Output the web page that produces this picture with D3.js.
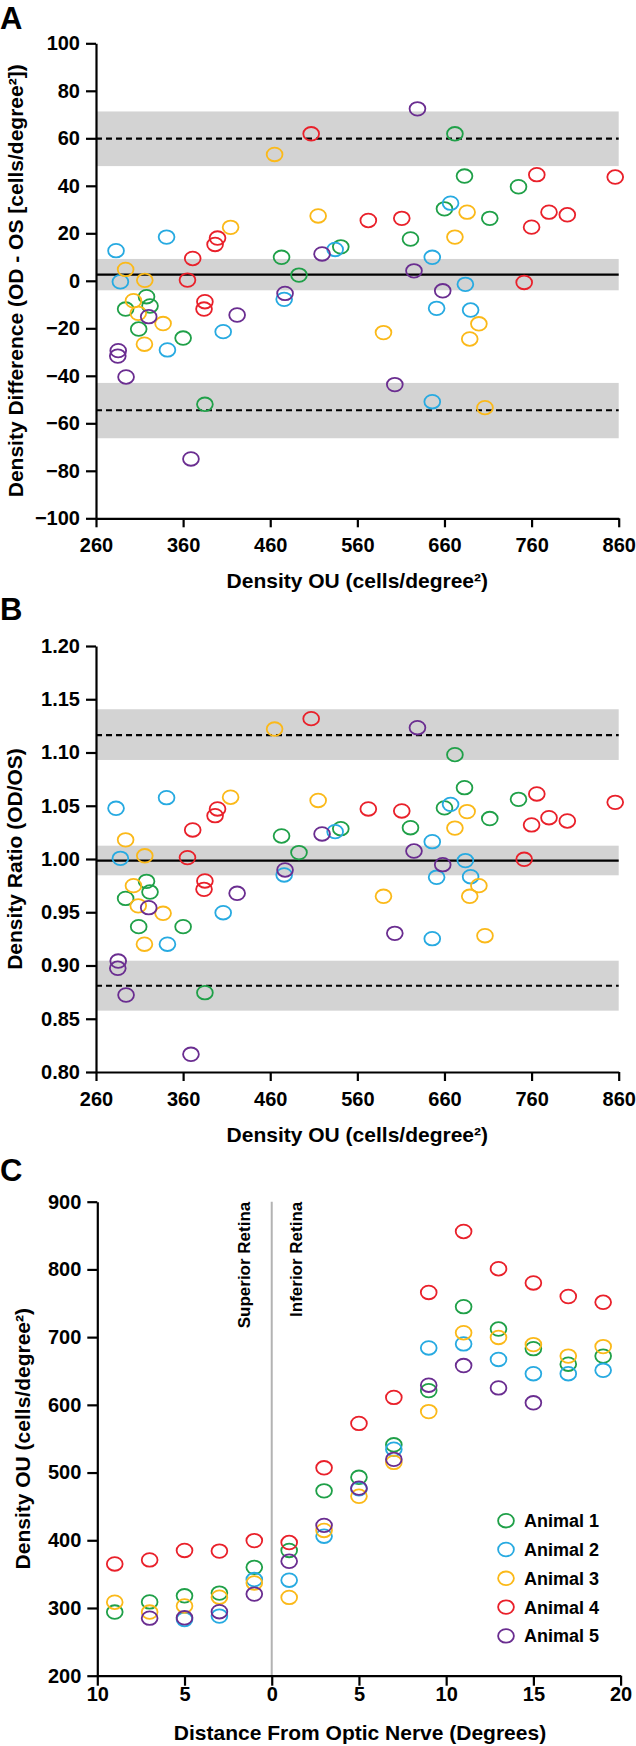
<!DOCTYPE html>
<html>
<head>
<meta charset="utf-8">
<script src="https://cdn.jsdelivr.net/npm/d3@7"></script>
<style>
  html, body { margin: 0; padding: 0; background: #ffffff; }
  svg { display: block; }
</style>
</head>
<body>
<script>
// ---------------- DATA ----------------
const locations = [-9, -7, -5, -3, -1, 1, 3, 5, 7, 9, 11, 13, 15, 17, 19];
const animals = ["Animal 1", "Animal 2", "Animal 3", "Animal 4", "Animal 5"];

// Density OU (cells/degree^2) per location
const densityOU1 = [294, 309, 318, 322, 360, 385, 473, 493, 541, 621, 745, 712, 683, 660, 672];
const densityOU2 = [null, null, 283, 288, 342, 341, 406, 476, 534.5, 684, 690, 667, 646, 646, 651];
const densityOU3 = [308.5, 294, 303, 316, 337, 315.6, 414.5, 465, 515, 590, 706.5, 699.5, 689, 672, 686];
const densityOU4 = [365, 371, 385, 384, 399.5, 396.7, 507, 572.6, 611, 766, 856, 801, 780, 760, 751.5];
const densityOU5 = [null, 285, 285.5, 294.5, 320.5, 369, 422, 477, 519.5, 629, 658, 625, 603, null, null];

// Density difference OD - OS
const diff1 = [-11.9, -20.3, -6.7, -10.6, -24.1, -52, 9.9, 2.4, 14.3, 17.6, 39.6, 26.3, 44.1, 30.3, 61.9];
const diff2 = [null, null, 12.7, -0.4, -29.1, 18.4, -21.4, -7.8, 13.2, -1.5, -12.3, 32.7, 9.9, -50.9, -11.6];
const diff3 = [-13.7, 4.8, -8.4, 0.2, -18, -26.7, 22.5, 53.2, 27.3, -21.8, -53.4, -18.1, -24.5, 18.4, 28.9];
const diff4 = [0.3, 9.4, -8.8, -11.9, 18, 15.3, 61.9, 25.4, 26.3, 44.7, 43.7, 27.8, 28.9, 22.6, -0.7];
const diff5 = [null, -31.7, -29.4, -40.5, -15.1, -75, -14.4, -5.3, 11.3, 72.4, -4.2, 4.2, -43.7, null, null];

// Density ratio OD/OS
const ratio1 = [0.963, 0.9365, 0.979, 0.969, 0.9365, 0.8745, 1.0216, 1.006, 1.0285, 1.0294, 1.056, 1.038, 1.067, 1.048, 1.098];
const ratio2 = [null, null, 1.0476, 1.0006, 0.920, 1.0576, 0.9496, 0.985, 1.0257, 0.9985, 0.9834, 1.0513, 1.0163, 0.9252, 0.9828];
const ratio3 = [0.956, 1.018, 0.975, 1.003, 0.949, 0.920, 1.058, 1.122, 1.055, 0.965, 0.928, 0.975, 0.965, 1.029, 1.0445];
const ratio4 = [1.0013, 1.0273, 0.9794, 0.9715, 1.047, 1.0407, 1.1318, 1.047, 1.0451, 1.0611, 1.0532, 1.0357, 1.0388, 1.032, 0.9997];
const ratio5 = [null, 0.8974, 0.9042, 0.8723, 0.9543, 0.8166, 0.9678, 0.9897, 1.0235, 1.1233, 0.9947, 1.0075, 0.9302, null, null];

// Bland-Altman reference values: [lower CI, line, upper CI]
const diffMean = [-4.0, 2.6, 9.2];
const diffUpperLoA = [48.3, 59.9, 71.3];
const diffLowerLoA = [-66.3, -54.5, -43.0];
const ratioMean = [0.9847, 0.9984, 1.0125];
const ratioUpperLoA = [1.093, 1.1164, 1.1406];
const ratioLowerLoA = [0.8576, 0.881, 0.9045];

// Tick labels
const ticksOU = [260, 360, 460, 560, 660, 760, 860];
const ticksDiff = [-100, -80, -60, -40, -20, 0, 20, 40, 60, 80, 100];
const ticksRatio = [0.80, 0.85, 0.90, 0.95, 1.00, 1.05, 1.10, 1.15, 1.20];
const ticksDist = [-10, -5, 0, 5, 10, 15, 20];
const ticksDensC = [200, 300, 400, 500, 600, 700, 800, 900];

// ---------------- STYLE ----------------
const colors = ["#1fa048", "#27aae1", "#fbb919", "#e9202a", "#6a2d90"];
const FONT = "'Liberation Sans', Arial, Helvetica, sans-serif";

const ouSets = [densityOU1, densityOU2, densityOU3, densityOU4, densityOU5];
const diffSets = [diff1, diff2, diff3, diff4, diff5];
const ratioSets = [ratio1, ratio2, ratio3, ratio4, ratio5];

function points(xs, ys) {
  const out = [];
  xs.forEach((x, i) => { if (x != null && ys[i] != null) out.push([x, ys[i]]); });
  return out;
}

const svg = d3.select("body").append("svg")
  .attr("width", 636).attr("height", 1746)
  .style("font-family", FONT);

// scales
const xAB = d3.scaleLinear().domain([260, 860]).range([96, 618.7]);
const yA = d3.scaleLinear().domain([-100, 100]).range([518.3, 43.3]);
const yB = d3.scaleLinear().domain([0.8, 1.2]).range([1072, 646]);
const xC = d3.scaleLinear().domain([-10, 20]).range([97.3, 620.6]);
const yC = d3.scaleLinear().domain([200, 900]).range([1675.7, 1201.7]);

function styleAxis(g, size) {
  g.attr("font-size", size).attr("font-family", FONT).attr("font-weight", "bold");
  g.select(".domain").attr("stroke", "#000").attr("stroke-width", 2.2);
  g.selectAll(".tick line").attr("stroke", "#000").attr("stroke-width", 2.2);
  g.selectAll(".tick text").attr("fill", "#000");
}

function bands(yScale, sets, x0, x1) {
  const g = svg.append("g");
  sets.forEach((s, i) => {
    g.append("rect")
      .attr("x", x0).attr("width", x1 - x0)
      .attr("y", yScale(s[2])).attr("height", yScale(s[0]) - yScale(s[2]))
      .attr("fill", "#d3d3d3");
  });
  sets.forEach((s, i) => {
    g.append("line")
      .attr("x1", x0).attr("x2", x1)
      .attr("y1", yScale(s[1])).attr("y2", yScale(s[1]))
      .attr("stroke", "#000").attr("stroke-width", 2.2)
      .attr("stroke-dasharray", i === 1 ? null : "6,4");
  });
}

function drawPoints(xScale, yScale, xsets, ysets) {
  const g = svg.append("g");
  xsets.forEach((xs, k) => {
    g.selectAll(null).data(points(xs, ysets[k])).enter().append("ellipse")
      .attr("cx", d => xScale(d[0])).attr("cy", d => yScale(d[1]))
      .attr("rx", 7.9).attr("ry", 6.8)
      .attr("fill", "none").attr("stroke", colors[k]).attr("stroke-width", 1.8);
  });
}

function panelLetter(t, y) {
  svg.append("text").attr("x", 0).attr("y", y).text(t)
    .attr("font-size", 31).attr("font-weight", "bold").attr("fill", "#000");
}

function yTitle(x, y, parts) {
  const t = svg.append("text")
    .attr("transform", `translate(${x},${y}) rotate(-90)`)
    .attr("text-anchor", "middle").attr("font-size", 21).attr("font-weight", "bold").attr("fill", "#000");
  t.text(parts);
}
function xTitle(x, y, txt) {
  svg.append("text").attr("x", x).attr("y", y).attr("text-anchor", "middle")
    .attr("font-size", 21).attr("font-weight", "bold").attr("fill", "#000").text(txt);
}

// ---------------- PANEL A ----------------
panelLetter("A", 28.5);
bands(yA, [diffLowerLoA, diffMean, diffUpperLoA], xAB(260), xAB(860));
svg.append("g").attr("transform", "translate(96,0)")
  .call(d3.axisLeft(yA).tickValues(ticksDiff).tickSize(10).tickSizeOuter(0).tickPadding(6))
  .call(g => styleAxis(g, 20));
svg.append("g").attr("transform", "translate(0,518.3)")
  .call(d3.axisBottom(xAB).tickValues(ticksOU).tickSize(9).tickPadding(11).tickSizeOuter(0))
  .call(g => styleAxis(g, 20));
drawPoints(xAB, yA, ouSets, diffSets);
yTitle(23, 280.8, "Density Difference (OD - OS [cells/degree²])");
xTitle(357.3, 587.7, "Density OU (cells/degree²)");

// ---------------- PANEL B ----------------
panelLetter("B", 620);
bands(yB, [ratioLowerLoA, ratioMean, ratioUpperLoA], xAB(260), xAB(860));
svg.append("g").attr("transform", "translate(96,0)")
  .call(d3.axisLeft(yB).tickValues(ticksRatio).tickFormat(d3.format(".2f")).tickSize(10).tickSizeOuter(0).tickPadding(6))
  .call(g => styleAxis(g, 20));
svg.append("g").attr("transform", "translate(0,1072)")
  .call(d3.axisBottom(xAB).tickValues(ticksOU).tickSize(9).tickPadding(11).tickSizeOuter(0))
  .call(g => styleAxis(g, 20));
drawPoints(xAB, yB, ouSets, ratioSets);
yTitle(22, 859, "Density Ratio (OD/OS)");
xTitle(357.3, 1141.7, "Density OU (cells/degree²)");

// ---------------- PANEL C ----------------
panelLetter("C", 1180.7);
svg.append("line")
  .attr("x1", xC(0)).attr("x2", xC(0)).attr("y1", yC(900)).attr("y2", yC(200))
  .attr("stroke", "#b3b3b3").attr("stroke-width", 2);
svg.append("text")
  .attr("transform", `translate(${xC(0) - 22},${yC(900)}) rotate(-90)`)
  .attr("text-anchor", "end").attr("font-size", 17).attr("font-weight", "bold").attr("fill", "#000")
  .text("Superior Retina");
svg.append("text")
  .attr("transform", `translate(${xC(0) + 30},${yC(900)}) rotate(-90)`)
  .attr("text-anchor", "end").attr("font-size", 17).attr("font-weight", "bold").attr("fill", "#000")
  .text("Inferior Retina");
svg.append("g").attr("transform", `translate(${xC(-10)},0)`)
  .call(d3.axisLeft(yC).tickValues(ticksDensC).tickSize(10).tickSizeOuter(0).tickPadding(6))
  .call(g => styleAxis(g, 20));
svg.append("g").attr("transform", `translate(0,${yC(200)})`)
  .call(d3.axisBottom(xC).tickValues(ticksDist).tickFormat(d => Math.abs(d)).tickSize(10).tickPadding(1).tickSizeOuter(0))
  .call(g => styleAxis(g, 20));
const locSets = ouSets.map(() => locations);
{
  const g = svg.append("g");
  ouSets.forEach((ys, k) => {
    g.selectAll(null).data(points(locations, ys)).enter().append("ellipse")
      .attr("cx", d => xC(d[0])).attr("cy", d => yC(d[1]))
      .attr("rx", 7.9).attr("ry", 6.8)
      .attr("fill", "none").attr("stroke", colors[k]).attr("stroke-width", 1.8);
  });
}
yTitle(30, 1438.7, "Density OU (cells/degree²)");
xTitle(360, 1740, "Distance From Optic Nerve (Degrees)");

// legend
const legend = svg.append("g");
animals.forEach((name, i) => {
  const cy = 1520.7 + i * 28.8;
  legend.append("ellipse").attr("cx", 506).attr("cy", cy).attr("rx", 7.9).attr("ry", 6.8)
    .attr("fill", "none").attr("stroke", colors[i]).attr("stroke-width", 1.8);
  legend.append("text").attr("x", 524).attr("y", cy).attr("dy", "0.36em")
    .attr("font-size", 18).attr("font-weight", "bold").attr("fill", "#000").text(name);
});
</script>
</body>
</html>
